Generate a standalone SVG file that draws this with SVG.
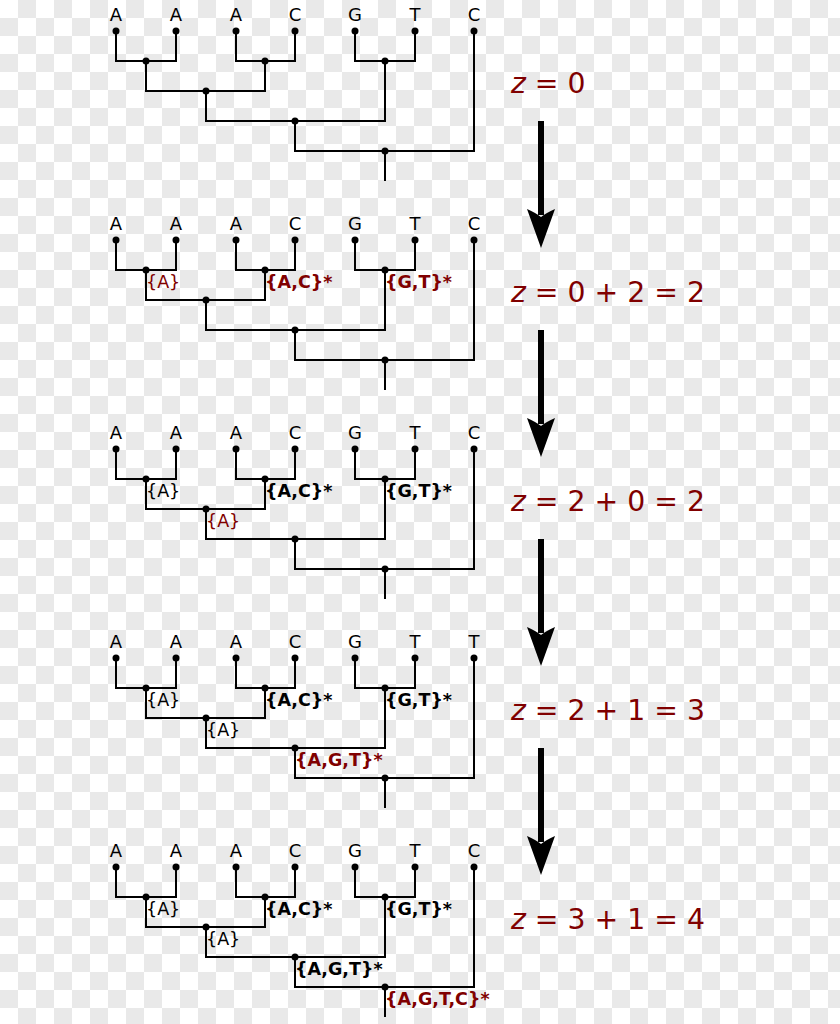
<svg xmlns="http://www.w3.org/2000/svg" width="840" height="1024" viewBox="0 0 840 1024">
<defs>
<pattern id="cb" width="36" height="36" patternUnits="userSpaceOnUse">
<rect width="36" height="36" fill="#ffffff"/>
<rect x="18" y="0" width="18" height="18" fill="#e9e9e9"/>
<rect x="0" y="18" width="18" height="18" fill="#e9e9e9"/>
</pattern>
<g id="arrow">
<rect x="538" y="121" width="6" height="94" fill="#000"/>
<path d="M541,248 L527,209 Q536,213 541,217 Q546,213 555,209 Z" fill="#000"/>
</g>
<path id="tree" fill="none" stroke="#000" stroke-width="2" d="M116,31 V61 H176 V31 M236,31 V61 H295 V31 M355,31 V61 H415 V31 M146,61 V91 H265 V61 M206,91 V121 H385 V61 M295,121 V151 H474 V31 M385,151 V181"/>
</defs>
<style>
text{font-family:"DejaVu Sans","Liberation Sans",sans-serif;}
.leaf{font-size:18px;text-anchor:middle;fill:#000;}
.lab{font-size:17.5px;fill:#000;}
.b{font-weight:bold;}
.red{fill:#800000;}
.eq{font-size:28.3px;fill:#800000;}
.eq tspan.z{font-style:italic;}
circle{fill:#000;}
</style>
<rect width="840" height="1024" fill="url(#cb)"/>

<!-- Panel 1 -->
<g id="panel1">
<g id="p1-connectors"><use href="#tree"/></g>
<g id="p1-l1"><circle cx="116" cy="31" r="3.5"/><text class="leaf" x="116" y="21">A</text></g>
<g id="p1-l2"><circle cx="176" cy="31" r="3.5"/><text class="leaf" x="176" y="21">A</text></g>
<g id="p1-l3"><circle cx="236" cy="31" r="3.5"/><text class="leaf" x="236" y="21">A</text></g>
<g id="p1-l4"><circle cx="295" cy="31" r="3.5"/><text class="leaf" x="295" y="21">C</text></g>
<g id="p1-l5"><circle cx="355" cy="31" r="3.5"/><text class="leaf" x="355" y="21">G</text></g>
<g id="p1-l6"><circle cx="415" cy="31" r="3.5"/><text class="leaf" x="415" y="21">T</text></g>
<g id="p1-l7"><circle cx="474" cy="31" r="3.5"/><text class="leaf" x="474" y="21">C</text></g>
<g id="p1-n1"><circle cx="146" cy="61" r="3.5"/></g>
<g id="p1-n2"><circle cx="265" cy="61" r="3.5"/></g>
<g id="p1-n3"><circle cx="385" cy="61" r="3.5"/></g>
<g id="p1-n4"><circle cx="206" cy="91" r="3.5"/></g>
<g id="p1-n5"><circle cx="295" cy="121" r="3.5"/></g>
<g id="p1-n6"><circle cx="385" cy="151" r="3.5"/></g>
</g>

<!-- Panel 2 -->
<g id="panel2" transform="translate(0,209)">
<g id="p2-connectors"><use href="#tree"/></g>
<g id="p2-l1"><circle cx="116" cy="31" r="3.5"/><text class="leaf" x="116" y="21">A</text></g>
<g id="p2-l2"><circle cx="176" cy="31" r="3.5"/><text class="leaf" x="176" y="21">A</text></g>
<g id="p2-l3"><circle cx="236" cy="31" r="3.5"/><text class="leaf" x="236" y="21">A</text></g>
<g id="p2-l4"><circle cx="295" cy="31" r="3.5"/><text class="leaf" x="295" y="21">C</text></g>
<g id="p2-l5"><circle cx="355" cy="31" r="3.5"/><text class="leaf" x="355" y="21">G</text></g>
<g id="p2-l6"><circle cx="415" cy="31" r="3.5"/><text class="leaf" x="415" y="21">T</text></g>
<g id="p2-l7"><circle cx="474" cy="31" r="3.5"/><text class="leaf" x="474" y="21">C</text></g>
<g id="p2-n1"><circle cx="146" cy="61" r="3.5"/><text class="lab red" x="146" y="79">{A}</text></g>
<g id="p2-n2"><circle cx="265" cy="61" r="3.5"/><text class="lab b red" x="265" y="79">{A,C}*</text></g>
<g id="p2-n3"><circle cx="385" cy="61" r="3.5"/><text class="lab b red" x="385" y="79">{G,T}*</text></g>
<g id="p2-n4"><circle cx="206" cy="91" r="3.5"/></g>
<g id="p2-n5"><circle cx="295" cy="121" r="3.5"/></g>
<g id="p2-n6"><circle cx="385" cy="151" r="3.5"/></g>
</g>

<!-- Panel 3 -->
<g id="panel3" transform="translate(0,418)">
<g id="p3-connectors"><use href="#tree"/></g>
<g id="p3-l1"><circle cx="116" cy="31" r="3.5"/><text class="leaf" x="116" y="21">A</text></g>
<g id="p3-l2"><circle cx="176" cy="31" r="3.5"/><text class="leaf" x="176" y="21">A</text></g>
<g id="p3-l3"><circle cx="236" cy="31" r="3.5"/><text class="leaf" x="236" y="21">A</text></g>
<g id="p3-l4"><circle cx="295" cy="31" r="3.5"/><text class="leaf" x="295" y="21">C</text></g>
<g id="p3-l5"><circle cx="355" cy="31" r="3.5"/><text class="leaf" x="355" y="21">G</text></g>
<g id="p3-l6"><circle cx="415" cy="31" r="3.5"/><text class="leaf" x="415" y="21">T</text></g>
<g id="p3-l7"><circle cx="474" cy="31" r="3.5"/><text class="leaf" x="474" y="21">C</text></g>
<g id="p3-n1"><circle cx="146" cy="61" r="3.5"/><text class="lab" x="146" y="79">{A}</text></g>
<g id="p3-n2"><circle cx="265" cy="61" r="3.5"/><text class="lab b" x="265" y="79">{A,C}*</text></g>
<g id="p3-n3"><circle cx="385" cy="61" r="3.5"/><text class="lab b" x="385" y="79">{G,T}*</text></g>
<g id="p3-n4"><circle cx="206" cy="91" r="3.5"/><text class="lab red" x="206" y="109">{A}</text></g>
<g id="p3-n5"><circle cx="295" cy="121" r="3.5"/></g>
<g id="p3-n6"><circle cx="385" cy="151" r="3.5"/></g>
</g>

<!-- Panel 4 -->
<g id="panel4" transform="translate(0,627)">
<g id="p4-connectors"><use href="#tree"/></g>
<g id="p4-l1"><circle cx="116" cy="31" r="3.5"/><text class="leaf" x="116" y="21">A</text></g>
<g id="p4-l2"><circle cx="176" cy="31" r="3.5"/><text class="leaf" x="176" y="21">A</text></g>
<g id="p4-l3"><circle cx="236" cy="31" r="3.5"/><text class="leaf" x="236" y="21">A</text></g>
<g id="p4-l4"><circle cx="295" cy="31" r="3.5"/><text class="leaf" x="295" y="21">C</text></g>
<g id="p4-l5"><circle cx="355" cy="31" r="3.5"/><text class="leaf" x="355" y="21">G</text></g>
<g id="p4-l6"><circle cx="415" cy="31" r="3.5"/><text class="leaf" x="415" y="21">T</text></g>
<g id="p4-l7"><circle cx="474" cy="31" r="3.5"/><text class="leaf" x="474" y="21">T</text></g>
<g id="p4-n1"><circle cx="146" cy="61" r="3.5"/><text class="lab" x="146" y="79">{A}</text></g>
<g id="p4-n2"><circle cx="265" cy="61" r="3.5"/><text class="lab b" x="265" y="79">{A,C}*</text></g>
<g id="p4-n3"><circle cx="385" cy="61" r="3.5"/><text class="lab b" x="385" y="79">{G,T}*</text></g>
<g id="p4-n4"><circle cx="206" cy="91" r="3.5"/><text class="lab" x="206" y="109">{A}</text></g>
<g id="p4-n5"><circle cx="295" cy="121" r="3.5"/><text class="lab b red" x="295" y="139">{A,G,T}*</text></g>
<g id="p4-n6"><circle cx="385" cy="151" r="3.5"/></g>
</g>

<!-- Panel 5 -->
<g id="panel5" transform="translate(0,836)">
<g id="p5-connectors"><use href="#tree"/></g>
<g id="p5-l1"><circle cx="116" cy="31" r="3.5"/><text class="leaf" x="116" y="21">A</text></g>
<g id="p5-l2"><circle cx="176" cy="31" r="3.5"/><text class="leaf" x="176" y="21">A</text></g>
<g id="p5-l3"><circle cx="236" cy="31" r="3.5"/><text class="leaf" x="236" y="21">A</text></g>
<g id="p5-l4"><circle cx="295" cy="31" r="3.5"/><text class="leaf" x="295" y="21">C</text></g>
<g id="p5-l5"><circle cx="355" cy="31" r="3.5"/><text class="leaf" x="355" y="21">G</text></g>
<g id="p5-l6"><circle cx="415" cy="31" r="3.5"/><text class="leaf" x="415" y="21">T</text></g>
<g id="p5-l7"><circle cx="474" cy="31" r="3.5"/><text class="leaf" x="474" y="21">C</text></g>
<g id="p5-n1"><circle cx="146" cy="61" r="3.5"/><text class="lab" x="146" y="79">{A}</text></g>
<g id="p5-n2"><circle cx="265" cy="61" r="3.5"/><text class="lab b" x="265" y="79">{A,C}*</text></g>
<g id="p5-n3"><circle cx="385" cy="61" r="3.5"/><text class="lab b" x="385" y="79">{G,T}*</text></g>
<g id="p5-n4"><circle cx="206" cy="91" r="3.5"/><text class="lab" x="206" y="109">{A}</text></g>
<g id="p5-n5"><circle cx="295" cy="121" r="3.5"/><text class="lab b" x="295" y="139">{A,G,T}*</text></g>
<g id="p5-n6"><circle cx="385" cy="151" r="3.5"/><text class="lab b red" x="385" y="169">{A,G,T,C}*</text></g>
</g>

<!-- Equations -->
<g id="equations">
<text class="eq" x="511" y="93"><tspan class="z">z</tspan> = 0</text>
<text class="eq" x="511" y="302"><tspan class="z">z</tspan> = 0 + 2 = 2</text>
<text class="eq" x="511" y="511"><tspan class="z">z</tspan> = 2 + 0 = 2</text>
<text class="eq" x="511" y="720"><tspan class="z">z</tspan> = 2 + 1 = 3</text>
<text class="eq" x="511" y="929"><tspan class="z">z</tspan> = 3 + 1 = 4</text>
</g>

<!-- Step arrows -->
<g id="step-arrows">
<use href="#arrow"/>
<use href="#arrow" transform="translate(0,209)"/>
<use href="#arrow" transform="translate(0,418)"/>
<use href="#arrow" transform="translate(0,627)"/>
</g>
</svg>
